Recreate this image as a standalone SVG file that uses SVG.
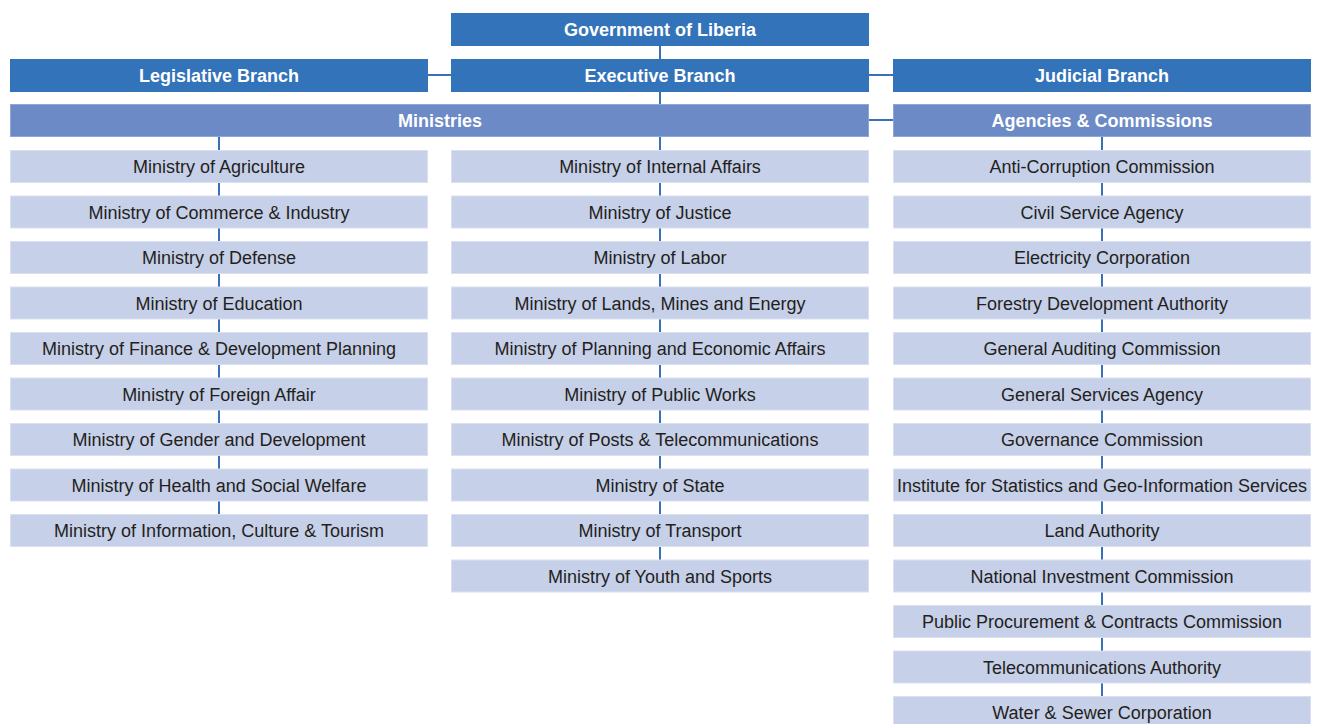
<svg xmlns="http://www.w3.org/2000/svg" width="1317" height="724" viewBox="0 0 1317 724">
  <style>
    .top { fill: #3373b9; }
    .sub { fill: #6b8ac6; stroke: #8fa6d6; stroke-width: 1; }
    .item { fill: #c6d0e8; stroke: #d9e0f0; stroke-width: 1; }
    .hd { font-family: "Liberation Sans", Arial, sans-serif; font-weight: bold; font-size: 18px; fill: #ffffff; text-anchor: middle; }
    .tx { font-family: "Liberation Sans", Arial, sans-serif; font-size: 18px; fill: #231f20; text-anchor: middle; }
    .ln { stroke: #3a70b5; stroke-width: 2; fill: none; }
  </style>

  <!-- connectors drawn beneath the boxes -->
  <g id="connectors">
    <line class="ln" x1="660" y1="46" x2="660" y2="560"/>
    <line class="ln" x1="219" y1="137" x2="219" y2="514"/>
    <line class="ln" x1="1102" y1="137" x2="1102" y2="697"/>
    <line class="ln" x1="428" y1="75" x2="451" y2="75"/>
    <line class="ln" x1="869" y1="75" x2="893" y2="75"/>
    <line class="ln" x1="869" y1="120" x2="893" y2="120"/>
  </g>

  <!-- top level -->
  <g id="government"><rect class="top" x="451" y="13" width="418" height="33"/><text class="hd" x="660" y="36">Government of Liberia</text></g>
  <g id="legislative"><rect class="top" x="10" y="59" width="418" height="33"/><text class="hd" x="219" y="82">Legislative Branch</text></g>
  <g id="executive"><rect class="top" x="451" y="59" width="418" height="33"/><text class="hd" x="660" y="82">Executive Branch</text></g>
  <g id="judicial"><rect class="top" x="893" y="59" width="418" height="33"/><text class="hd" x="1102" y="82">Judicial Branch</text></g>

  <!-- second level -->
  <g id="ministries"><rect class="sub" x="10.5" y="104.5" width="858" height="32"/><text class="hd" x="440" y="127">Ministries</text></g>
  <g id="agencies"><rect class="sub" x="893.5" y="104.5" width="417" height="32"/><text class="hd" x="1102" y="127">Agencies &amp; Commissions</text></g>

  <!-- ministries, left column -->
  <g id="m-agriculture"><rect class="item" x="10.5" y="150.5" width="417" height="32"/><text class="tx" x="219" y="173">Ministry of Agriculture</text></g>
  <g id="m-commerce"><rect class="item" x="10.5" y="196" width="417" height="32"/><text class="tx" x="219" y="218.5">Ministry of Commerce &amp; Industry</text></g>
  <g id="m-defense"><rect class="item" x="10.5" y="241.5" width="417" height="32"/><text class="tx" x="219" y="264">Ministry of Defense</text></g>
  <g id="m-education"><rect class="item" x="10.5" y="287" width="417" height="32"/><text class="tx" x="219" y="309.5">Ministry of Education</text></g>
  <g id="m-finance"><rect class="item" x="10.5" y="332.5" width="417" height="32"/><text class="tx" x="219" y="355">Ministry of Finance &amp; Development Planning</text></g>
  <g id="m-foreign"><rect class="item" x="10.5" y="378" width="417" height="32"/><text class="tx" x="219" y="400.5">Ministry of Foreign Affair</text></g>
  <g id="m-gender"><rect class="item" x="10.5" y="423.5" width="417" height="32"/><text class="tx" x="219" y="446">Ministry of Gender and Development</text></g>
  <g id="m-health"><rect class="item" x="10.5" y="469" width="417" height="32"/><text class="tx" x="219" y="491.5">Ministry of Health and Social Welfare</text></g>
  <g id="m-information"><rect class="item" x="10.5" y="514.5" width="417" height="32"/><text class="tx" x="219" y="537">Ministry of Information, Culture &amp; Tourism</text></g>

  <!-- ministries, middle column -->
  <g id="m-internal"><rect class="item" x="451.5" y="150.5" width="417" height="32"/><text class="tx" x="660" y="173">Ministry of Internal Affairs</text></g>
  <g id="m-justice"><rect class="item" x="451.5" y="196" width="417" height="32"/><text class="tx" x="660" y="218.5">Ministry of Justice</text></g>
  <g id="m-labor"><rect class="item" x="451.5" y="241.5" width="417" height="32"/><text class="tx" x="660" y="264">Ministry of Labor</text></g>
  <g id="m-lands"><rect class="item" x="451.5" y="287" width="417" height="32"/><text class="tx" x="660" y="309.5">Ministry of Lands, Mines and Energy</text></g>
  <g id="m-planning"><rect class="item" x="451.5" y="332.5" width="417" height="32"/><text class="tx" x="660" y="355">Ministry of Planning and Economic Affairs</text></g>
  <g id="m-publicworks"><rect class="item" x="451.5" y="378" width="417" height="32"/><text class="tx" x="660" y="400.5">Ministry of Public Works</text></g>
  <g id="m-posts"><rect class="item" x="451.5" y="423.5" width="417" height="32"/><text class="tx" x="660" y="446">Ministry of Posts &amp; Telecommunications</text></g>
  <g id="m-state"><rect class="item" x="451.5" y="469" width="417" height="32"/><text class="tx" x="660" y="491.5">Ministry of State</text></g>
  <g id="m-transport"><rect class="item" x="451.5" y="514.5" width="417" height="32"/><text class="tx" x="660" y="537">Ministry of Transport</text></g>
  <g id="m-youth"><rect class="item" x="451.5" y="560" width="417" height="32"/><text class="tx" x="660" y="582.5">Ministry of Youth and Sports</text></g>

  <!-- agencies and commissions, right column -->
  <g id="a-anticorruption"><rect class="item" x="893.5" y="150.5" width="417" height="32"/><text class="tx" x="1102" y="173">Anti-Corruption Commission</text></g>
  <g id="a-civilservice"><rect class="item" x="893.5" y="196" width="417" height="32"/><text class="tx" x="1102" y="218.5">Civil Service Agency</text></g>
  <g id="a-electricity"><rect class="item" x="893.5" y="241.5" width="417" height="32"/><text class="tx" x="1102" y="264">Electricity Corporation</text></g>
  <g id="a-forestry"><rect class="item" x="893.5" y="287" width="417" height="32"/><text class="tx" x="1102" y="309.5">Forestry Development Authority</text></g>
  <g id="a-auditing"><rect class="item" x="893.5" y="332.5" width="417" height="32"/><text class="tx" x="1102" y="355">General Auditing Commission</text></g>
  <g id="a-generalservices"><rect class="item" x="893.5" y="378" width="417" height="32"/><text class="tx" x="1102" y="400.5">General Services Agency</text></g>
  <g id="a-governance"><rect class="item" x="893.5" y="423.5" width="417" height="32"/><text class="tx" x="1102" y="446">Governance Commission</text></g>
  <g id="a-statistics"><rect class="item" x="893.5" y="469" width="417" height="32"/><text class="tx" x="1102" y="491.5">Institute for Statistics and Geo-Information Services</text></g>
  <g id="a-land"><rect class="item" x="893.5" y="514.5" width="417" height="32"/><text class="tx" x="1102" y="537">Land Authority</text></g>
  <g id="a-investment"><rect class="item" x="893.5" y="560" width="417" height="32"/><text class="tx" x="1102" y="582.5">National Investment Commission</text></g>
  <g id="a-procurement"><rect class="item" x="893.5" y="605.5" width="417" height="32"/><text class="tx" x="1102" y="628">Public Procurement &amp; Contracts Commission</text></g>
  <g id="a-telecom"><rect class="item" x="893.5" y="651" width="417" height="32"/><text class="tx" x="1102" y="673.5">Telecommunications Authority</text></g>
  <g id="a-water"><rect class="item" x="893.5" y="696.5" width="417" height="32"/><text class="tx" x="1102" y="719">Water &amp; Sewer Corporation</text></g>
</svg>
